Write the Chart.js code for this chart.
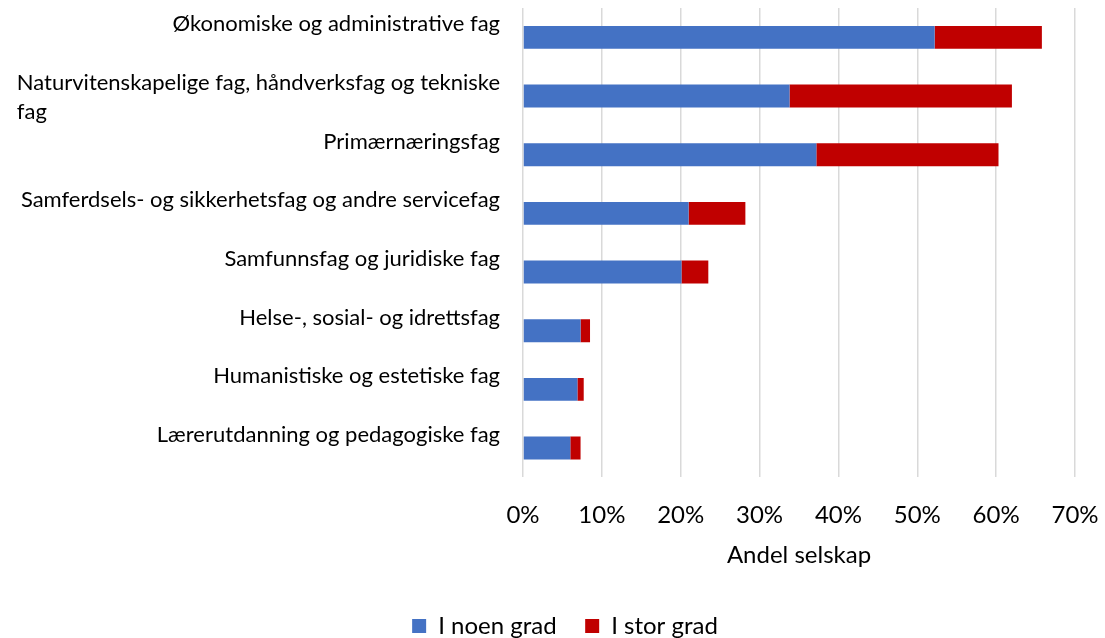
<!DOCTYPE html>
<html>
<head>
<meta charset="utf-8">
<script src="https://cdn.jsdelivr.net/npm/chart.js@4"></script>
<style>
  html, body { margin: 0; padding: 0; background: #fff; }
  #wrap { width: 1105px; height: 638px; }
</style>
</head>
<body>
<div id="wrap"><canvas id="chart"></canvas></div>
<script>
const categories = [
  "Økonomiske og administrative fag",
  ["Naturvitenskapelige fag, håndverksfag og tekniske", "fag"],
  "Primærnæringsfag",
  "Samferdsels- og sikkerhetsfag og andre servicefag",
  "Samfunnsfag og juridiske fag",
  "Helse-, sosial- og idrettsfag",
  "Humanistiske og estetiske fag",
  "Lærerutdanning og pedagogiske fag"
];

const noenGrad = [52.2, 33.8, 37.2, 21.0, 20.1, 7.3, 6.9, 6.0];
const storGrad = [13.6, 28.2, 23.1, 7.2, 3.4, 1.2, 0.8, 1.3];

const seriesNames = ["I noen grad", "I stor grad"];
const xTicks = [0, 10, 20, 30, 40, 50, 60, 70];

const font = "Lato, 'Open Sans', sans-serif";

// Excel-style category labels: first line sits above the bar centre,
// wrapped lines continue left-aligned under the first one
const categoryLabels = {
  id: "categoryLabels",
  afterDraw(chart) {
    const ctx = chart.ctx;
    const y = chart.scales.y;
    const right = chart.chartArea.left - 23;
    ctx.save();
    ctx.font = "22px " + font;
    ctx.fillStyle = "#000";
    ctx.textBaseline = "middle";
    categories.forEach((lab, i) => {
      const lines = Array.isArray(lab) ? lab : [lab];
      const yc = y.getPixelForValue(i) - 13;
      const w0 = ctx.measureText(lines[0]).width;
      lines.forEach((line, k) => {
        if (k === 0) {
          ctx.textAlign = "right";
          ctx.fillText(line, right, yc);
        } else {
          ctx.textAlign = "left";
          ctx.fillText(line, right - w0, yc + 29 * k);
        }
      });
    });
    ctx.restore();
  }
};

new Chart(document.getElementById("chart"), {
  type: "bar",
  data: {
    labels: categories,
    datasets: [
      {
        label: seriesNames[0],
        data: noenGrad,
        backgroundColor: "#4472C4",
        barPercentage: 0.39,
        categoryPercentage: 1
      },
      {
        label: seriesNames[1],
        data: storGrad,
        backgroundColor: "#C00000",
        barPercentage: 0.39,
        categoryPercentage: 1
      }
    ]
  },
  plugins: [categoryLabels],
  options: {
    indexAxis: "y",
    responsive: true,
    maintainAspectRatio: false,
    animation: false,
    layout: { padding: { top: 8, right: 0, bottom: -10, left: 25 } },
    plugins: {
      legend: {
        position: "bottom",
        labels: {
          color: "#000",
          font: { family: font, size: 24 },
          boxWidth: 14,
          boxHeight: 14,
          padding: 4,
          generateLabels: chart => {
            const items = Chart.defaults.plugins.legend.labels.generateLabels(chart);
            items[0].text = items[0].text + "    ";
            return items;
          }
        }
      },
      tooltip: { enabled: false }
    },
    scales: {
      x: {
        stacked: true,
        min: 0,
        max: xTicks[xTicks.length - 1],
        afterBuildTicks: s => { s.ticks = xTicks.map(v => ({ value: v })); },
        afterFit: s => { s.paddingRight = 30; },
        grid: { color: "#d9d9d9", lineWidth: 1.5, drawTicks: false },
        border: { display: false },
        ticks: {
          color: "#000",
          font: { family: font, size: 24 },
          padding: 23,
          callback: v => v + "%"
        },
        title: {
          display: true,
          text: "Andel selskap",
          color: "#000",
          font: { family: font, size: 24 },
          padding: { top: -11, bottom: 40 }
        }
      },
      y: {
        stacked: true,
        afterFit: s => { s.width = 498; },
        grid: { display: false, drawTicks: false },
        border: { display: false },
        ticks: { display: false }
      }
    }
  }
});
</script>
</body>
</html>
